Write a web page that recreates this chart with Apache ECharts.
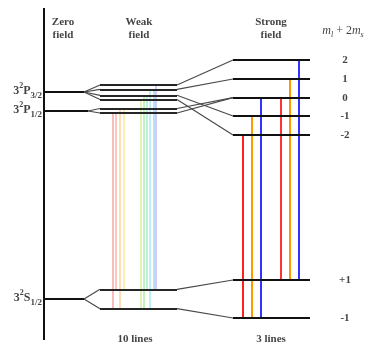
<!DOCTYPE html>
<html>
<head>
<meta charset="utf-8">
<script src="https://cdn.jsdelivr.net/npm/echarts@6/dist/echarts.min.js"></script>
<style>
html,body{margin:0;padding:0;background:#fff;}
#chart{width:368px;height:344px;}
</style>
</head>
<body>
<div id="chart"></div>
<script>
// energies in arbitrary units (up = higher)
var termLabels = ['3{sup|2}P{sub|3/2}', '3{sup|2}P{sub|1/2}', '3{sup|2}S{sub|1/2}'];
var zeroE = [252, 233, 45];
var weakP = [259, 254.7, 248.7, 244.5, 235.5, 231];
var weakS = [54.7, 35.3];
var strongP = [284, 265, 246.3, 228, 209];
var strongPLabels = ['2', '1', '0', '-1', '-2'];
var strongS = [64, 26];
var strongSLabels = ['+1', '-1'];
// which strong-field level each weak-field P sublevel goes to
var weakToStrong = [0, 1, 3, 4, 2, 2];

// weak field: 10 lines
var weakLineX = [112.7, 115.3, 119.3, 123.3, 140.7, 144, 146.7, 150, 153.3, 156];
var weakUpper = [5, 5, 4, 4, 3, 2, 2, 1, 1, 0];
var weakLower = [1, 0, 1, 0, 1, 1, 0, 1, 0, 0];
var weakColors = ['#f8a4a4', '#fbb4a0', '#fcd0a0', '#f4ec98', '#d2f29a', '#b0eca8', '#a4ecd0', '#a4ecf0', '#acd0f8', '#bcbcf8'];

// strong field: 3 lines (each twice)
var strongLineX = [242.7, 252, 261, 281, 290, 299];
var strongUpper = [4, 3, 2, 2, 1, 0];
var strongLower = [1, 1, 1, 0, 0, 0];
var strongColors = ['#ff2020', '#ff9900', '#3333ff', '#ff3333', '#ff9900', '#3333ff'];

var myChart = echarts.init(document.getElementById('chart'));

var serif = '"Liberation Serif", "DejaVu Serif", serif';
var black = '#111';

var axisSeg = [{coords: [[44, 336], [44, 4]]}];

var levelSegs = [];
// zero field
var splitX = [84, 88, 84];
zeroE.forEach(function (e, i) {
	levelSegs.push({coords: [[44, e], [splitX[i], e]]});
});
// weak field
weakP.concat(weakS).forEach(function (e) {
	levelSegs.push({coords: [[100, e], [177, e]], lineStyle: {color: '#262626', width: 2}});
});
// strong field
strongP.concat(strongS).forEach(function (e) { levelSegs.push({coords: [[233, e], [310, e]]}); });

var fanSegs = [];
// zero -> weak
[0, 1, 2, 3].forEach(function (i) { fanSegs.push({coords: [[84, zeroE[0]], [100, weakP[i]]]}); });
[4, 5].forEach(function (i) { fanSegs.push({coords: [[88, zeroE[1]], [100, weakP[i]]]}); });
weakS.forEach(function (e) { fanSegs.push({coords: [[84, zeroE[2]], [100, e]]}); });
// weak -> strong
weakP.forEach(function (e, i) { fanSegs.push({coords: [[177, e], [233, strongP[weakToStrong[i]]]]}); });
weakS.forEach(function (e, i) { fanSegs.push({coords: [[177, e], [233, strongS[i]]]}); });

var weakSegs = weakLineX.map(function (x, i) {
	return {coords: [[x, weakP[weakUpper[i]]], [x, weakS[weakLower[i]]]], lineStyle: {color: weakColors[i]}};
});
var strongSegs = strongLineX.map(function (x, i) {
	return {coords: [[x, strongP[strongUpper[i]]], [x, strongS[strongLower[i]]]], lineStyle: {color: strongColors[i]}};
});

function segSeries(data, style, z) {
	return {
		type: 'lines',
		coordinateSystem: 'cartesian2d',
		silent: true,
		z: z,
		lineStyle: style,
		data: data
	};
}

var boldText = {fontFamily: serif, fontWeight: 'bold', fontSize: 11, color: black};

function textSeries(points, label) {
	return {
		type: 'scatter',
		silent: true,
		symbolSize: 1,
		itemStyle: {color: 'rgba(0,0,0,0)'},
		z: 10,
		label: Object.assign({show: true, position: 'inside'}, label),
		data: points
	};
}

var headPoints = [
	{value: [63, 315.5], label: {formatter: 'Zero\nfield'}},
	{value: [139, 315.5], label: {formatter: 'Weak\nfield'}},
	{value: [271, 315.5], label: {formatter: 'Strong\nfield'}},
	{value: [135, 5], label: {formatter: '10 lines'}},
	{value: [271, 5], label: {formatter: '3 lines'}}
];

var numPoints = strongP.map(function (e, i) { return {value: [345, e], label: {formatter: strongPLabels[i]}}; })
	.concat(strongS.map(function (e, i) { return {value: [345, e], label: {formatter: strongSLabels[i]}}; }));

var termPoints = zeroE.map(function (e, i) { return {value: [42, e + 1], label: {formatter: termLabels[i]}}; });

var option = {
	animation: false,
	grid: {left: 0, right: 0, top: 0, bottom: 0},
	xAxis: {type: 'value', min: 0, max: 368, show: false},
	yAxis: {type: 'value', min: 0, max: 344, show: false},
	series: [
		segSeries(weakSegs, {width: 1.5, opacity: 1}, 1),
		segSeries(strongSegs, {width: 2, opacity: 1}, 1),
		segSeries(fanSegs, {color: '#4a4a4a', width: 1.2, opacity: 1}, 2),
		segSeries(levelSegs, {color: black, width: 2, opacity: 1}, 3),
		segSeries(axisSeg, {color: black, width: 2, opacity: 1}, 3),
		textSeries(headPoints, Object.assign({lineHeight: 13, align: 'center', verticalAlign: 'middle'}, boldText)),
		textSeries(numPoints, Object.assign({align: 'center', verticalAlign: 'middle'}, boldText)),
		textSeries(termPoints, {
			align: 'right', verticalAlign: 'middle',
			rich: {
				sup: {fontFamily: serif, fontWeight: 'bold', fontSize: 8, lineHeight: 8, verticalAlign: 'top', color: black},
				sub: {fontFamily: serif, fontWeight: 'bold', fontSize: 9, lineHeight: 9, verticalAlign: 'bottom', color: black}
			},
			fontFamily: serif, fontWeight: 'bold', fontSize: 12, lineHeight: 18, color: black
		}),
		textSeries([{value: [343, 313]}], {
			align: 'center', verticalAlign: 'middle',
			formatter: '{it|m}{sb|l}{n| + 2}{it|m}{sb|s}',
			rich: {
				it: {fontFamily: serif, fontStyle: 'italic', fontSize: 12, lineHeight: 16, verticalAlign: 'middle', color: black},
				sb: {fontFamily: serif, fontStyle: 'italic', fontSize: 8, lineHeight: 8, verticalAlign: 'bottom', color: black},
				n: {fontFamily: serif, fontSize: 12, lineHeight: 16, verticalAlign: 'middle', color: black}
			}
		})
	]
};
myChart.setOption(option);
</script>
</body>
</html>
